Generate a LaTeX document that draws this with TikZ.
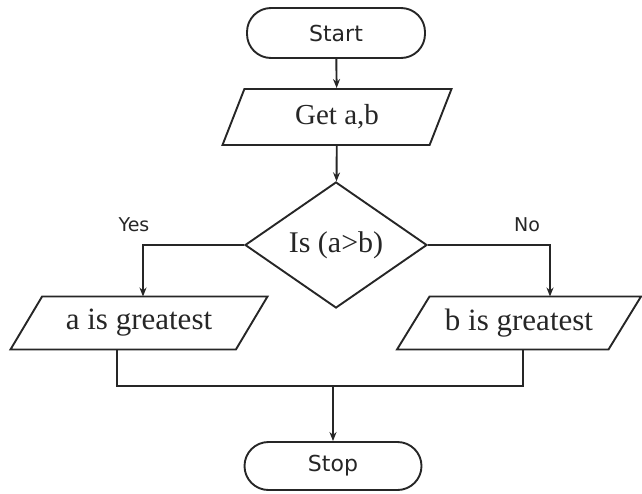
\documentclass[tikz,border=0pt]{standalone}
\usepackage{fontspec}
\setmainfont{Liberation Serif}
\newfontfamily\termfont{DejaVu Sans}
\usetikzlibrary{shapes.geometric,arrows.meta}
\definecolor{ink}{HTML}{262626}
\begin{document}
\begin{tikzpicture}[x=1pt,y=-1pt,line width=1.9pt,>={Stealth[length=9pt,width=7pt]},draw=ink,text=ink,
        terminal/.style={draw,rounded corners=24pt,minimum width=178pt,minimum height=50pt,
            font=\termfont\fontsize{22}{26}\selectfont},
        io/.style={draw,trapezium,trapezium stretches body,trapezium left angle=47,
            trapezium right angle=133,minimum height=53pt,inner xsep=4pt,
            font=\fontsize{31}{36}\selectfont},
        decision/.style={draw,diamond,aspect=1.44,minimum width=182pt,minimum height=126pt,
            inner sep=0pt,font=\fontsize{30}{35}\selectfont},
        lbl/.style={font=\termfont\fontsize{19}{22}\selectfont}]
        \useasboundingbox (0,0) rectangle (642,493);
        %% boxes of the chart
        \node[terminal] (start) at (336,33) {Start};
        \node[io,minimum width=229pt,minimum height=56pt,trapezium left angle=55,
            trapezium right angle=125,font=\fontsize{29}{34}\selectfont] (get) at (337,117) {Get a,b};
        \node[decision] (test) at (336,245) {Is (a>b)};
        \node[io,minimum width=257pt] (agreat) at (139,323) {a is greatest};
        \node[io,minimum width=244pt] (bgreat) at (519,323) {b is greatest};
        \node[terminal,minimum width=177pt,minimum height=48pt] (stop) at (333,466) {Stop};
        %% branch labels
        \node[lbl] (yes) at (134,225) {Yes};
        \node[lbl] (no) at (527,225) {No};
        %% points where the lines bend or meet
        \coordinate (ain) at (143,296.5);
        \coordinate (bin) at (550,296.5);
        \coordinate (aout) at (117,349.5);
        \coordinate (bout) at (523,349.5);
        \coordinate (join) at (333,386);
        %% flow
        \draw[->] (start) -- (get);
        \draw[->] (get) -- (test);
        \draw[->] (test.west) -| (ain);
        \draw[->] (test.east) -| (bin);
        \draw (aout) |- (join);
        \draw (bout) |- (join);
        \draw[->] (join) -- (stop);
    \end{tikzpicture}
\end{document}
